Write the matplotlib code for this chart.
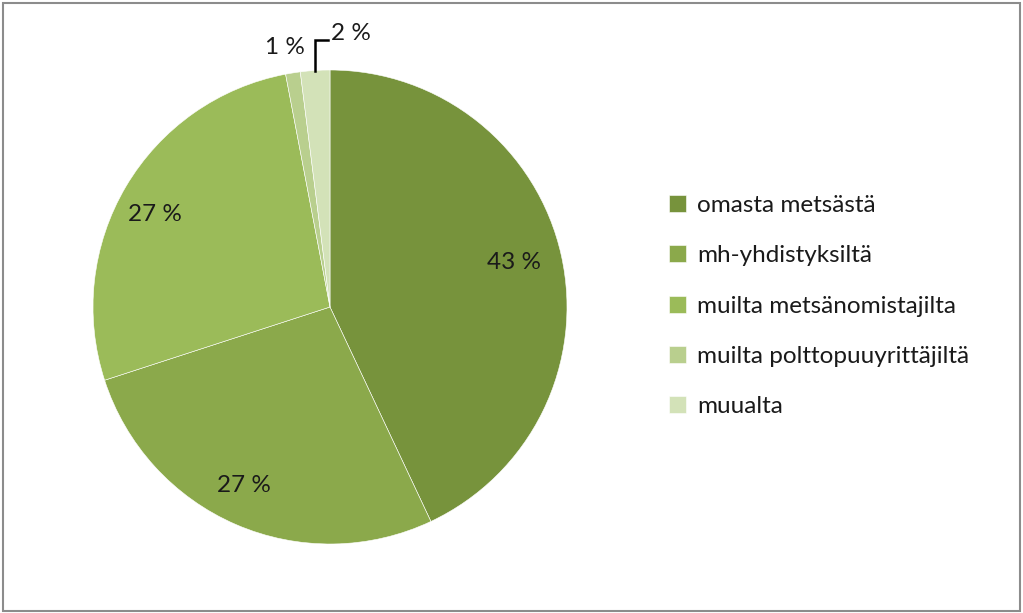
import matplotlib.pyplot as plt
from matplotlib.patches import Rectangle

# Data
labels = ['omasta metsästä', 'mh-yhdistyksiltä', 'muilta metsänomistajilta',
          'muilta polttopuuyrittäjiltä', 'muualta']
values = [43, 27, 27, 1, 2]
pct_labels = ['43 %', '27 %', '27 %', '1 %', '2 %']
colors = ['#77933C', '#8BA94B', '#9BBB59', '#B9CF8E', '#D3E2B8']

plt.rcParams['font.family'] = ['Lato', 'DejaVu Sans']

fig = plt.figure(figsize=(10.23, 6.13), dpi=100)

# Pie axes: center (330, 307), radius ~237 px
cx, cy, r = 330, 307, 237
W, H = 1023, 613
ax = fig.add_axes([(cx - r) / W, 1 - (cy + r) / H, 2 * r / W, 2 * r / H])
wedges, _ = ax.pie(values, colors=colors, startangle=90, counterclock=False,
                   wedgeprops=dict(linewidth=0.4, edgecolor='white'))
ax.set_xlim(-1, 1)
ax.set_ylim(-1, 1)
ax.set_aspect('equal')

# label positions in data units (radius = 1)
def to_data(px, py):
    return ((px - cx) / r, (cy - py) / r)

pos = [(514, 262), (244, 485), (155, 214), (285, 47), (351, 33)]
for (px, py), t in zip(pos, pct_labels):
    x, y = to_data(px, py)
    ax.text(x, y, t, ha='center', va='center', fontsize=17.5, color='#1a1a1a',
            clip_on=False)

# leader line for the 2 % slice
p0 = to_data(315, 71)
p1 = to_data(315, 40)
p2 = to_data(328, 40)
ax.plot([p0[0], p1[0], p2[0]], [p0[1], p1[1], p2[1]], color='black', lw=1.8,
        clip_on=False, solid_joinstyle='miter')

# legend
leg = fig.legend(wedges, labels, loc='upper left',
                 bbox_to_anchor=(657 / W, 1 - 183 / H), frameon=False,
                 fontsize=17.5, handlelength=0.7, handleheight=0.7,
                 handletextpad=0.45, labelspacing=1.2, borderpad=0)
for t in leg.get_texts():
    t.set_color('#1a1a1a')

# outer frame
fig.patches.append(Rectangle((3 / W, 2 / H), 1 - 6 / W, 1 - 5 / H,
                             transform=fig.transFigure, fill=False,
                             edgecolor='#8c8c8c', linewidth=1.5))

fig.savefig('out.png', dpi=100)
